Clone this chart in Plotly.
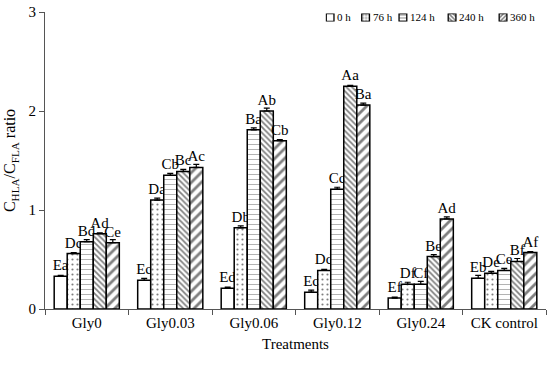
import plotly.graph_objects as go

categories = ["Gly0", "Gly0.03", "Gly0.06", "Gly0.12", "Gly0.24", "CK control"]
series_names = ["0 h", "76 h", "124 h", "240 h", "360 h"]

v_0h = [0.33, 0.29, 0.21, 0.17, 0.11, 0.31]
v_76h = [0.56, 1.10, 0.82, 0.39, 0.25, 0.36]
v_124h = [0.68, 1.35, 1.81, 1.21, 0.25, 0.39]
v_240h = [0.76, 1.39, 2.00, 2.25, 0.53, 0.48]
v_360h = [0.67, 1.43, 1.70, 2.06, 0.91, 0.57]

e_0h = [0.01, 0.02, 0.01, 0.02, 0.01, 0.03]
e_76h = [0.01, 0.02, 0.02, 0.01, 0.02, 0.02]
e_124h = [0.02, 0.02, 0.02, 0.02, 0.03, 0.02]
e_240h = [0.01, 0.02, 0.03, 0.01, 0.02, 0.03]
e_360h = [0.03, 0.03, 0.01, 0.02, 0.02, 0.01]

l_0h = ["Ea", "Ec", "Ed", "Ec", "Ef", "Eb"]
l_76h = ["Dc", "Da", "Db", "Dd", "Df", "De"]
l_124h = ["Bd", "Cb", "Ba", "Cc", "Cf", "Ce"]
l_240h = ["Ad", "Bc", "Ab", "Aa", "Be", "Bf"]
l_360h = ["Ce", "Ac", "Cb", "Ba", "Ad", "Af"]

values = [v_0h, v_76h, v_124h, v_240h, v_360h]
errors = [e_0h, e_76h, e_124h, e_240h, e_360h]
labels = [l_0h, l_76h, l_124h, l_240h, l_360h]

pat_shapes = ["", ".", "-", "\\", "/"]
pat_sizes = [6, 5, 5, 4, 7]
pat_solid = [0.2, 0.15, 0.12, 0.45, 0.4]

FONT = "Liberation Serif, Times New Roman, serif"

fig = go.Figure()
for i, (name, v, e, lab) in enumerate(zip(series_names, values, errors, labels)):
    fig.add_trace(go.Bar(
        x=categories, y=v, name=name, showlegend=False,
        marker=dict(color="white", line=dict(color="black", width=1.5),
                    pattern=dict(shape=pat_shapes[i], size=pat_sizes[i],
                                 solidity=pat_solid[i], fgcolor="black", bgcolor="white")),
        error_y=dict(type="data", array=e, arrayminus=[0] * len(e), symmetric=False,
                     color="black", thickness=1.2, width=3),
        text=lab, textposition="outside", constraintext="none", cliponaxis=False,
        textfont=dict(family=FONT, size=15, color="black"),
    ))

# compact legend (key) drawn as a small bar trace on an inset axis (layout positions)
key_pos = [0.0, 0.78, 1.6, 2.68, 3.8]
fig.add_trace(go.Bar(
    x=key_pos, y=[1] * len(key_pos), width=0.17, xaxis="x2", yaxis="y2",
    showlegend=False, hoverinfo="skip",
    marker=dict(color="white", line=dict(color="black", width=1.3),
                pattern=dict(shape=pat_shapes, size=[3] * 5,
                             solidity=[0.2, 0.3, 0.3, 0.5, 0.5],
                             fgcolor="black", bgcolor="white")),
))
annotations = [
    dict(x=k + 0.11, y=0.5, xref="x2", yref="y2", text=n, showarrow=False,
         xanchor="left", yanchor="middle", font=dict(family=FONT, size=11, color="black"))
    for k, n in zip(key_pos, series_names)
]

fig.update_layout(
    width=550, height=366,
    margin=dict(l=45, r=4, t=12, b=57),
    paper_bgcolor="white", plot_bgcolor="white",
    barmode="group", bargap=0.22, bargroupgap=0,
    font=dict(family=FONT, color="black"),
    showlegend=False,
    annotations=annotations,
    xaxis=dict(
        showline=True, linecolor="#555", linewidth=1,
        ticks="outside", ticklen=5, tickcolor="#555", tickson="boundaries",
        tickfont=dict(family=FONT, size=15),
        title=dict(text="Treatments", font=dict(family=FONT, size=15), standoff=8),
    ),
    yaxis=dict(
        range=[0, 3], tickvals=[0, 1, 2, 3],
        showline=True, linecolor="#555", linewidth=1,
        ticks="outside", ticklen=5, tickcolor="#555",
        showgrid=False, zeroline=False,
        tickfont=dict(family=FONT, size=15),
        title=dict(text="C<sub>HLA</sub>/C<sub>FLA</sub> ratio",
                   font=dict(family=FONT, size=16), standoff=8),
    ),
    xaxis2=dict(domain=[0.56, 0.996], range=[-0.1, 4.7], anchor="y2",
                visible=False, fixedrange=True),
    yaxis2=dict(domain=[0.968, 0.995], range=[0, 1], anchor="x2",
                visible=False, fixedrange=True),
)

fig.write_html("out.html", post_script="document.body.style.margin='0';",
               config={"displayModeBar": False})
